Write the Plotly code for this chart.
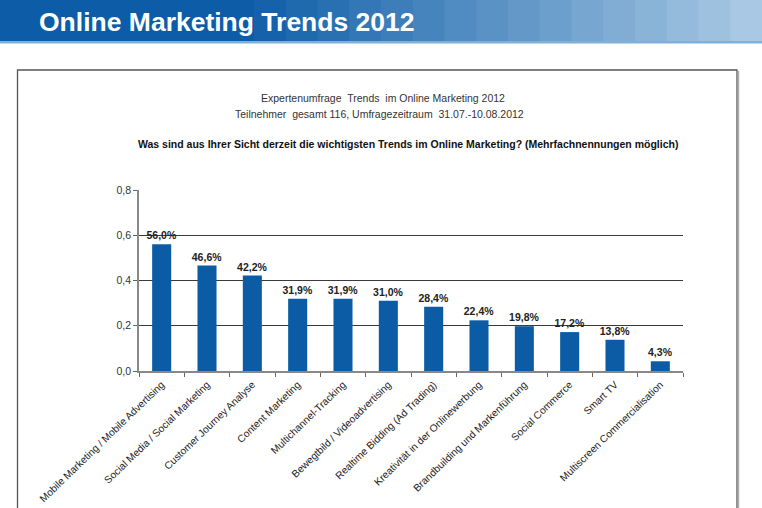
import plotly.graph_objects as go

categories = [
    "Mobile Marketing / Mobile Advertising",
    "Social Media / Social Marketing",
    "Customer Journey Analyse",
    "Content Marketing",
    "Multichannel-Tracking",
    "Bewegtbild / Videoadvertising",
    "Realtime Bidding (Ad Trading)",
    "Kreativität in der Onlinewerbung",
    "Brandbuilding und Markenführung",
    "Social Commerce",
    "Smart TV",
    "Multiscreen Commercialisation",
]
shares = [0.560, 0.466, 0.422, 0.319, 0.319, 0.310, 0.284, 0.224, 0.198, 0.172, 0.138, 0.043]
y_ticks = [0.0, 0.2, 0.4, 0.6, 0.8]

header_title = "Online Marketing Trends 2012"
subtitle_1 = "Expertenumfrage  Trends  im Online Marketing 2012"
subtitle_2 = "Teilnehmer  gesamt 116, Umfragezeitraum  31.07.-10.08.2012"
question = "Was sind aus Ihrer Sicht derzeit die wichtigsten Trends im Online Marketing? (Mehrfachnennungen möglich)"

W, H = 762, 508
L, R, T, B = 139, 79, 190, 137
PW, PH = W - L - R, H - T - B


def px(x):
    return (x - L) / PW


def py(y):
    return (H - B - y) / PH


FONT = "Liberation Sans, Arial, sans-serif"

fig = go.Figure()
fig.add_trace(go.Bar(
    x=categories,
    y=shares,
    marker=dict(color="#0b5ca4", line=dict(width=0)),
    texttemplate="%{y:.1%}",
    textposition="outside",
    constraintext="none",
    textfont=dict(family=FONT, size=10.5, color="#222222", weight="bold"),
    cliponaxis=False,
    hoverinfo="skip",
))

shapes = []
# header band gradient
c0 = (12, 92, 168)
c1 = (168, 200, 228)
n = 24
for i in range(n):
    x0 = i * W / n
    x1 = (i + 1) * W / n + 1
    t = max(0.0, (i - 7) / (n - 8))
    t = min(1.0, t)
    col = tuple(int(c0[k] + (c1[k] - c0[k]) * t) for k in range(3))
    shapes.append(dict(type="rect", xref="paper", yref="paper",
                       x0=px(x0), x1=px(x1), y0=py(41), y1=py(-2),
                       fillcolor="rgb(%d,%d,%d)" % col, line=dict(width=0), layer="below"))
shapes.append(dict(type="rect", xref="paper", yref="paper",
                   x0=px(0), x1=px(W + 2), y0=py(43.5), y1=py(41),
                   fillcolor="#7fb0da", line=dict(width=0), layer="below"))
# white content box
shapes.append(dict(type="rect", xref="paper", yref="paper",
                   x0=px(17.5), x1=px(737), y0=py(520), y1=py(70),
                   fillcolor="rgba(0,0,0,0)", line=dict(color="#555555", width=1.3), layer="below"))
shapes.append(dict(type="line", xref="paper", yref="paper",
                   x0=px(738.5), x1=px(738.5), y0=py(520), y1=py(71),
                   line=dict(color="#b0b0b0", width=1.5), layer="below"))

annotations = [
    dict(text="<b>" + header_title + "</b>", xref="paper", yref="paper",
         x=px(37), y=py(22), xanchor="left", yanchor="middle", showarrow=False,
         font=dict(family="Liberation Sans Narrow, Arial Narrow, Liberation Sans, Arial", size=26.5, color="white")),
    dict(text=subtitle_1, xref="paper", yref="paper", x=px(383), y=py(98),
         xanchor="center", yanchor="middle", showarrow=False,
         font=dict(family=FONT, size=10.5, color="#333333")),
    dict(text=subtitle_2, xref="paper", yref="paper", x=px(379), y=py(114),
         xanchor="center", yanchor="middle", showarrow=False,
         font=dict(family=FONT, size=10.5, color="#333333")),
    dict(text="<b>" + question + "</b>", xref="paper", yref="paper", x=px(408), y=py(144),
         xanchor="center", yanchor="middle", showarrow=False,
         font=dict(family=FONT, size=10.5, color="#111111")),
]

fig.update_layout(
    width=W, height=H,
    margin=dict(l=L, r=R, t=T, b=B, pad=0, autoexpand=False),
    paper_bgcolor="white", plot_bgcolor="white",
    separators=",.",
    bargap=0.58,
    showlegend=False,
    shapes=shapes,
    annotations=annotations,
    font=dict(family=FONT, color="#333333"),
)
fig.update_xaxes(
    type="category",
    automargin=False,
    tickangle=-44,
    ticklabelstandoff=2,
    tickfont=dict(family=FONT, size=10.2, color="#222222"),
    showline=True, linecolor="#888888", linewidth=1.5,
    ticks="outside", tickson="boundaries", ticklen=4, tickcolor="#666666",
    showgrid=False,
)
fig.update_yaxes(
    range=[0, 0.8],
    automargin=False,
    tickvals=y_ticks,
    tickformat=".1f",
    tickfont=dict(family=FONT, size=10.5, color="#333333"),
    showline=True, linecolor="#888888", linewidth=1.5,
    ticks="outside", ticklen=4, tickcolor="#666666",
    showgrid=True, gridcolor="#3a3a3a", gridwidth=1,
    zeroline=False,
)

fig.write_html("out.html")
